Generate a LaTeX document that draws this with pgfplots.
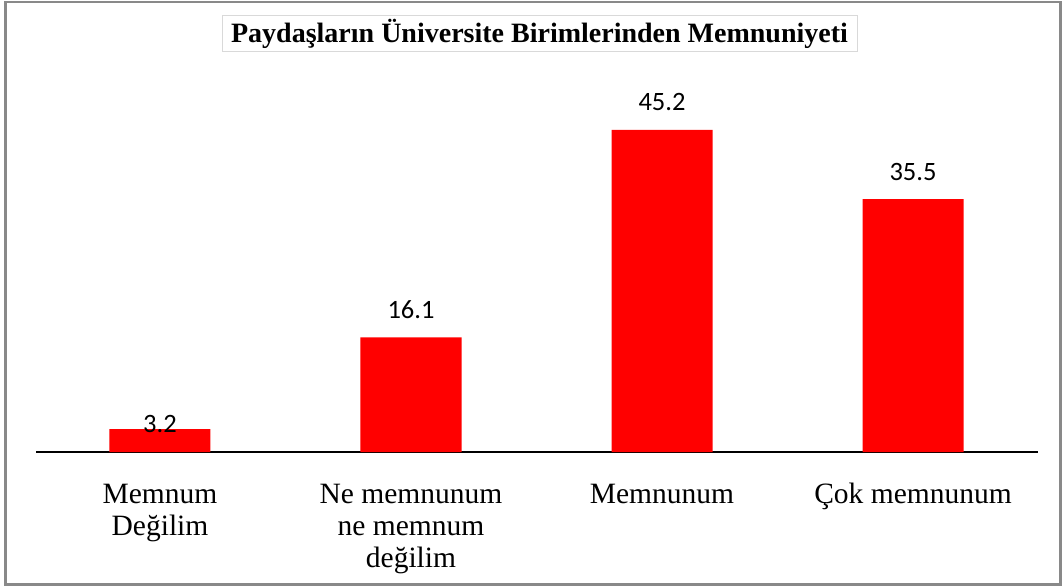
\documentclass[border=0pt]{standalone}
\usepackage{pgfplots}
\pgfplotsset{compat=1.18}
\usepackage{fontspec}
\setmainfont{Liberation Serif}
\newfontfamily\valfont{Carlito}
\definecolor{framegray}{HTML}{898989}
\definecolor{titlegray}{HTML}{D9D9D9}
\newcommand{\tl}[1]{\begin{tabular}{@{}c@{}}#1\end{tabular}}
\begin{document}
\begin{tikzpicture}[x=1pt,y=1pt]
\useasboundingbox (0,0) rectangle (1062,-586);
\draw[framegray, line width=2.2pt] (5.5,-2) rectangle (1060.5,-584.5);
\node[draw=titlegray, line width=1pt, minimum width=635pt, minimum height=36pt, inner sep=0pt,
      font=\fontsize{28}{30}\selectfont\bfseries] at (539.5,-34) {Paydaşların Üniversite Birimlerinden Memnuniyeti};
\begin{axis}[
  at={(36pt,-452pt)}, anchor=south west,
  x=251pt, y=7.124pt,
  xmin=-0.494, xmax=3.498, ymin=0, ymax=55,
  axis x line=bottom, axis y line=none,
  axis line style={-, line width=2pt, black},
  xtick={0,1,2,3},
  xticklabels={{\tl{Memnum\\Değilim}},{\tl{Ne memnunum\\ne memnum\\değilim}},{\tl{Memnunum}},{\tl{Çok memnunum}}},
  major tick length=0pt,
  xticklabel style={anchor=north, inner sep=0pt, yshift=-29pt,
                    font=\fontsize{29.5}{32}\selectfont},
  ytick=\empty,
  clip=false,
]
\addplot[ybar, bar width=101pt, bar shift=0pt, fill=red, draw=none]
  coordinates {(0,3.2) (1,16.1) (2,45.2) (3,35.5)};
\addplot[only marks, mark=none, nodes near coords, point meta=explicit symbolic,
  nodes near coords style={anchor=base, inner sep=0pt, font=\valfont\fontsize{26.5}{30}\selectfont}]
  table[meta=label] {
x y label
0 2.67 3.2
1 18.81 16.1
2 47.87 45.2
3 38.18 35.5
};
\end{axis}
\end{tikzpicture}
\end{document}
